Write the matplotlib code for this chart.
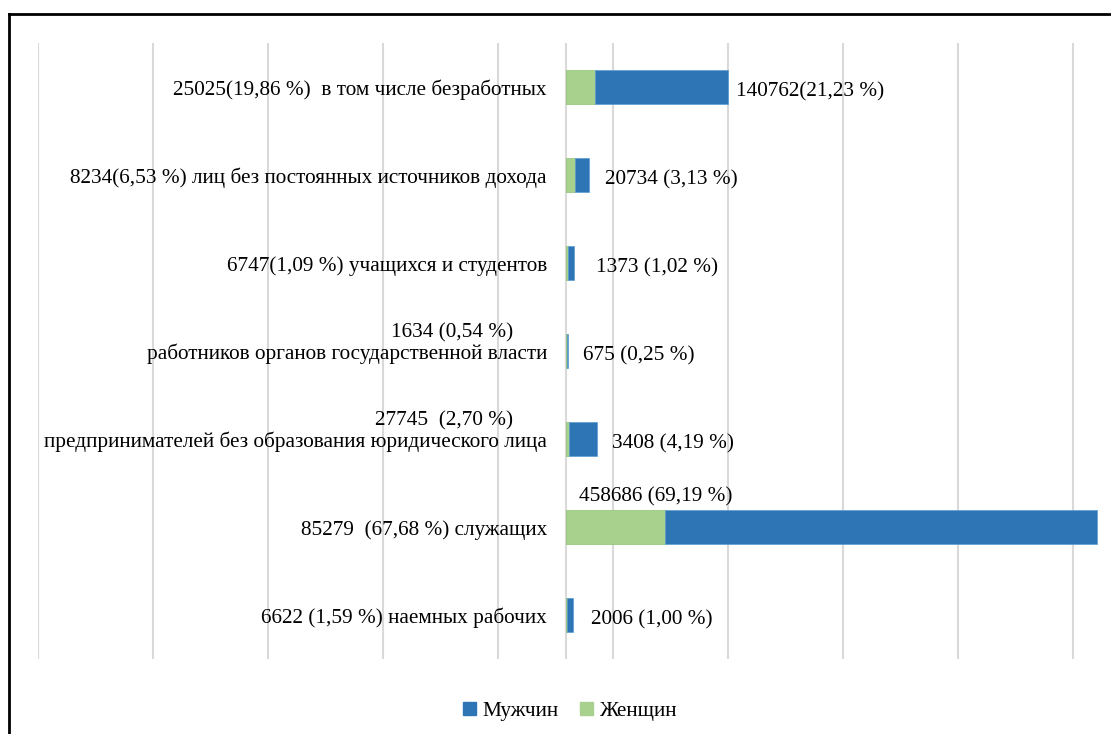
import numpy as np
import matplotlib.pyplot as plt
from matplotlib.lines import Line2D
from matplotlib.patches import Patch

plt.rcParams['font.family'] = ['Liberation Serif', 'DejaVu Serif']

# rows from top to bottom
categories = ['в том числе безработных',
              'лиц без постоянных источников дохода',
              'учащихся и студентов',
              'работников органов государственной власти',
              'предпринимателей без образования юридического лица',
              'служащих',
              'наемных рабочих']
women_labels = ['25025(19,86 %)  ', '8234(6,53 %) ', '6747(1,09 %) ', '1634 (0,54 %)',
                '27745  (2,70 %)', '85279  (67,68 %) ', '6622 (1,59 %) ']
men_labels = ['140762(21,23 %)', '20734 (3,13 %)', '1373 (1,02 %)', '675 (0,25 %)',
              '3408 (4,19 %)', '458686 (69,19 %)', '2006 (1,00 %)']
# bar lengths as drawn
women = [25200, 7800, 1400, 500, 2600, 86000, 1300]
men = [115650, 12400, 5500, 900, 24600, 375650, 5000]
# women label on its own line above the category
two_line = [False, False, False, True, True, False, False]

blue = '#2E75B6'
green = '#A9D18E'

fig = plt.figure(figsize=(11.11, 7.34), dpi=100)
ax = fig.add_axes([38 / 1111, 75 / 734, 1062 / 1111, 616 / 734])

y = np.arange(len(categories))
ax.barh(y, women, height=0.38, color=green, edgecolor='#8FBF70', linewidth=0.5, zorder=3)
ax.barh(y, men, left=women, height=0.38, color=blue, edgecolor='#5B9BD5', linewidth=0.5, zorder=3)

x0 = -459130
ax.set_xlim(x0, 464360)
ax.set_ylim(len(categories) - 0.5, -0.5)
for gx in list(np.arange(x0, 450000, 100000)) + [0]:
    ax.axvline(gx, color='#D9D9D9', lw=1.5, zorder=1)
ax.set_xticks([])
ax.set_yticks([])
for s in ax.spines.values():
    s.set_visible(False)

fs = 15.3
men_dx = [8, 16, 22, 15, 15, 0, 18]
for i in range(len(categories)):
    if two_line[i]:
        ax.annotate(categories[i], (0, i), xytext=(-19, -3), textcoords='offset pixels',
                    ha='right', va='center', fontsize=fs)
        ax.annotate(women_labels[i], (0, i), xytext=(-53, 18), textcoords='offset pixels',
                    ha='right', va='center', fontsize=fs)
    else:
        ax.annotate(women_labels[i] + categories[i], (0, i), xytext=(-19, -3),
                    textcoords='offset pixels', ha='right', va='center', fontsize=fs)
    end = women[i] + men[i]
    if i == 5:
        ax.annotate(men_labels[i], (0, i), xytext=(13, 30), textcoords='offset pixels',
                    ha='left', va='center', fontsize=fs)
    else:
        ax.annotate(men_labels[i], (end, i), xytext=(men_dx[i], -5), textcoords='offset pixels',
                    ha='left', va='center', fontsize=fs)

handles = [Patch(color=blue), Patch(color=green)]
fig.legend(handles, ['Мужчин', 'Женщин'], loc='center', bbox_to_anchor=(0.513, 0.031),
           ncol=2, frameon=False, fontsize=fs, handlelength=0.6, handleheight=0.6,
           handletextpad=0.3, columnspacing=1.0)

# outer frame (only left and top edges visible)
fig.add_artist(Line2D([9 / 1111, 9 / 1111], [0, 1 - 14 / 734], color='black', lw=2))
fig.add_artist(Line2D([9 / 1111, 1], [1 - 14 / 734, 1 - 14 / 734], color='black', lw=2))

fig.savefig('out.png', dpi=100)
